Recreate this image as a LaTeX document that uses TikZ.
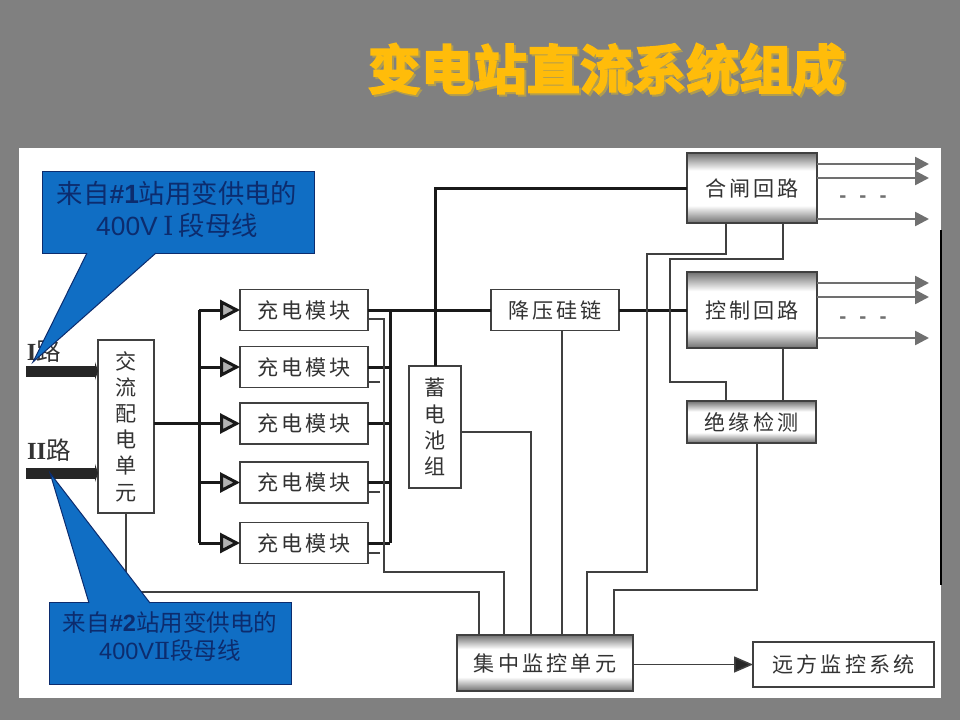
\documentclass[tikz,border=0pt]{standalone}
\usepackage{fontspec}
\usetikzlibrary{arrows.meta, positioning}
\setmainfont{Noto Sans CJK SC}
\newfontfamily\latinfont{Liberation Sans}
\newfontfamily\romanfont{Liberation Serif}
\newfontfamily\numeralfont{DejaVu Serif}
\newfontfamily\widecjk[LetterSpace=15]{Noto Sans CJK SC}
\newfontfamily\titlefont[FakeBold=3.5]{Noto Sans CJK SC Bold}
\definecolor{slidegray}{RGB}{128, 128, 128}
\definecolor{calloutblue}{RGB}{16, 110, 196}
\definecolor{calloutink}{RGB}{12, 44, 110}
\definecolor{titlegold}{RGB}{255, 188, 10}
\definecolor{titleshade}{RGB}{176, 156, 80}
\definecolor{wireink}{RGB}{64, 64, 64}
\definecolor{tipgray}{RGB}{112, 112, 112}
\pgfdeclareverticalshading{panelshade}{100bp}{color(0bp)=(tipgray); color(25bp)=(tipgray); color(37.5bp)=(white); color(62.5bp)=(white); color(75bp)=(tipgray); color(100bp)=(tipgray)}

\begin{document}
\begin{tikzpicture}[
  x=0.02cm, y=-0.02cm,
  unitbox/.style={draw=wireink, fill=white, line width=0.03cm, inner sep=0pt, outer sep=0pt, align=center, text=black!80, font=\widecjk\fontsize{12}{15}\selectfont},
  modbox/.style={unitbox, minimum width=2.56cm, minimum height=0.82cm},
  tallbox/.style={unitbox, font=\fontsize{12}{14.9}\selectfont},
  panelbox/.style={unitbox, shading=panelshade, shade},
  callbox/.style={draw=calloutink, fill=calloutblue, line width=0.02cm, inner sep=0pt, outer sep=0pt, anchor=north west},
  calltail/.style={draw=calloutink, fill=calloutblue, line width=0.02cm},
  calltext/.style={inner sep=0pt, align=center, text=calloutink},
  lulabel/.style={inner sep=0pt, text=black!80, font=\fontsize{14}{16}\selectfont},
  busline/.style={draw=black!90, line width=0.06cm},
  feedline/.style={busline, -{Triangle[length=0.4cm, width=0.4cm, fill=black!30]}},
  thinline/.style={draw=wireink, line width=0.03cm},
  outline/.style={draw=tipgray, line width=0.05cm, -{Triangle[length=0.28cm, width=0.28cm, fill=tipgray]}},
  inbar/.style={draw=black!85, line width=0.22cm, -{Triangle[length=0.06cm, width=0.36cm, fill=black!85]}},
  dotsnode/.style={text=tipgray, inner sep=0pt, font=\latinfont\bfseries\fontsize{12}{14}\selectfont}
]
  \useasboundingbox (0,0) rectangle (960,720);
  \fill[slidegray] (0,0) rectangle (960,720);
  \fill[white] (19,148) rectangle (941,698);
  \coordinate (edgea) at (941,230);
  \coordinate (edgeb) at (941,585);
  \draw[black, line width=0.03cm] (edgea) -- (edgeb);

  \node[text=titleshade, font=\titlefont\fontsize{30.2}{36}\selectfont] (titleback) at (608.5,71) {变电站直流系统组成};
  \node[text=titlegold, font=\titlefont\fontsize{30.2}{36}\selectfont] (titletext) at (606.5,69) {变电站直流系统组成};

  \node[tallbox, minimum width=1.12cm, minimum height=3.46cm] (jiaoliu) at (126,426.5) {交\\流\\配\\电\\单\\元};
  \node[modbox] (mod1) at (304,310) {充电模块};
  \node[modbox] (mod2) at (304,367) {充电模块};
  \node[modbox] (mod3) at (304,423.5) {充电模块};
  \node[modbox] (mod4) at (304,482.5) {充电模块};
  \node[modbox] (mod5) at (304,543) {充电模块};
  \node[tallbox, minimum width=1.04cm, minimum height=2.44cm] (xudian) at (435,427) {蓄\\电\\池\\组};
  \node[modbox] (jiangya) at (555,310) {降压硅链};
  \node[panelbox, minimum width=2.6cm, minimum height=1.4cm] (hezha) at (752,188) {合闸回路};
  \node[panelbox, minimum width=2.6cm, minimum height=1.52cm] (kongzhi) at (752,310) {控制回路};
  \node[panelbox, minimum width=2.58cm, minimum height=0.84cm] (jueyuan) at (751.5,422) {绝缘检测};
  \node[panelbox, minimum width=3.52cm, minimum height=1.12cm] (jizhong) at (545,663) {集中监控单元};
  \node[unitbox, minimum width=3.62cm, minimum height=0.9cm] (yuanfang) at (843.5,664.5) {远方监控系统};

  \node[lulabel] (luone) at (44,351) {{\romanfont\bfseries I}路};
  \node[lulabel] (lutwo) at (49,450) {{\romanfont\bfseries II}路};
  \coordinate (inone) at (26,371);
  \coordinate (intwo) at (26,473);
  \draw[inbar] (inone) -- (inone -| jiaoliu.west);
  \draw[inbar] (intwo) -- (intwo -| jiaoliu.west);

  \coordinate (bustop) at (199,310);
  \coordinate (busend) at (199,543);
  \draw[busline] (jiaoliu.east |- mod3.west) -- (bustop |- mod3.west);
  \draw[busline] (bustop) -- (busend);
  \draw[feedline] (bustop) -- (mod1.west);
  \draw[feedline] (bustop |- mod2.west) -- (mod2.west);
  \draw[feedline] (bustop |- mod3.west) -- (mod3.west);
  \draw[feedline] (bustop |- mod4.west) -- (mod4.west);
  \draw[feedline] (busend) -- (mod5.west);

  \coordinate (outtop) at (390,310);
  \coordinate (outend) at (390,543);
  \draw[busline] (mod1.east) -- (jiangya.west);
  \draw[busline] (jiangya.east) -- (kongzhi.west);
  \draw[busline] (outtop) -- (outend);
  \draw[busline] (mod2.east) -- (outtop |- mod2.east);
  \draw[busline] (mod3.east) -- (outtop |- mod3.east);
  \draw[busline] (mod4.east) -- (outtop |- mod4.east);
  \draw[busline] (mod5.east) -- (outend);
  \draw[busline] (xudian.north) |- (hezha.west);

  \coordinate (jzone) at (479,635);
  \coordinate (jztwo) at (504,635);
  \coordinate (jzthree) at (531,635);
  \coordinate (jzfour) at (562,635);
  \coordinate (jzfive) at (587,635);
  \coordinate (jzsix) at (614,635);
  \coordinate (modturn) at (384,572);
  \coordinate (hzturn) at (647,254);
  \coordinate (hzport) at (726,223);
  \coordinate (hzportb) at (783,223);
  \coordinate (hzturnb) at (670,259);
  \coordinate (jyport) at (726,401);
  \coordinate (jyportb) at (783,401);
  \draw[thinline] (jiaoliu.south) -- ++(0,79) -| (jzone);
  \draw[thinline] ([yshift=-0.18cm]mod1.east) -| (modturn) -| (jztwo);
  \draw[thinline] ([yshift=-0.3cm]mod2.east) -- ++(12,0);
  \draw[thinline] ([yshift=-0.19cm]mod4.east) -- ++(12,0);
  \draw[thinline] ([yshift=-0.2cm]mod5.east) -- ++(12,0);
  \draw[thinline] ([yshift=-0.1cm]xudian.east) -| (jzthree);
  \draw[thinline] (jiangya.south -| jzfour) -- (jzfour);
  \draw[thinline] (hzport) |- (hzturn) |- (jzfive |- 0,572) -- (jzfive);
  \draw[thinline] (hzportb) |- (hzturnb) |- (jyport |- 0,382) -- (jyport);
  \draw[thinline] (jyportb |- kongzhi.south) -- (jyportb);
  \draw[thinline] (jueyuan.south -| 757,0) |- (jzsix |- 0,590) -- (jzsix);
  \draw[thinline, -{Triangle[length=0.38cm, width=0.32cm, fill=black!85]}] (jizhong.east |- yuanfang.west) -- (yuanfang.west);

  \coordinate (hzouta) at (929,164);
  \coordinate (hzoutb) at (929,178);
  \coordinate (hzoutc) at (929,219);
  \coordinate (kzouta) at (929,283);
  \coordinate (kzoutb) at (929,297);
  \coordinate (kzoutc) at (929,338);
  \draw[outline] (hezha.east |- hzouta) -- (hzouta);
  \draw[outline] (hezha.east |- hzoutb) -- (hzoutb);
  \draw[outline] (hezha.east |- hzoutc) -- (hzoutc);
  \draw[outline] (kongzhi.east |- kzouta) -- (kzouta);
  \draw[outline] (kongzhi.east |- kzoutb) -- (kzoutb);
  \draw[outline] (kongzhi.east |- kzoutc) -- (kzoutc);
  \node[dotsnode] (hzdots) at (863,199) {-\hspace{7.4pt}-\hspace{7.4pt}-};
  \node[dotsnode] (kzdots) at (863,320) {-\hspace{7.4pt}-\hspace{7.4pt}-};

  \node[callbox, minimum width=5.46cm, minimum height=1.66cm] (callone) at (42,171) {};
  \coordinate (tipone) at (33,362);
  \coordinate (tailonea) at (87,253);
  \coordinate (tailoneb) at (156,253);
  \filldraw[calltail] (tailonea) -- (tipone) -- (tailoneb);
  \node[calltext, font=\fontsize{15}{18.2}\selectfont] (callonetext) at (177,209) {来自{\latinfont\bfseries\#1}站用变供电的\\{\latinfont 400V}\hspace{3pt}{\numeralfont Ⅰ}\hspace{3pt}段母线};

  \node[callbox, minimum width=4.84cm, minimum height=1.66cm] (calltwo) at (49.5,602) {};
  \coordinate (tiptwo) at (50,473);
  \coordinate (tailtwoa) at (89,603);
  \coordinate (tailtwob) at (150,603);
  \filldraw[calltail] (tailtwoa) -- (tiptwo) -- (tailtwob);
  \node[calltext, font=\fontsize{13.4}{16.4}\selectfont] (calltwotext) at (170,636.5) {来自{\latinfont\bfseries\#2}站用变供电的\\{\latinfont 400V}{\numeralfont Ⅱ}段母线};
\end{tikzpicture}
\end{document}
